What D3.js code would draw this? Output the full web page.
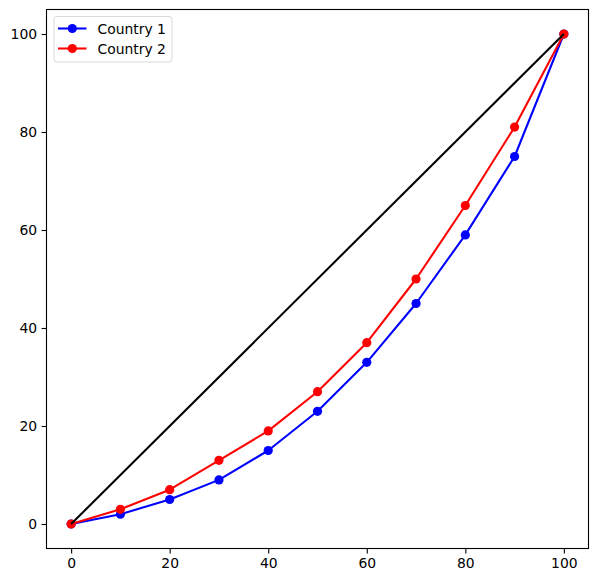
<!DOCTYPE html>
<html><head><meta charset="utf-8">
<script src="https://cdn.jsdelivr.net/npm/d3@7"></script>
<style>body{margin:0;background:#fff}svg{display:block}text{font-family:"DejaVu Sans";}</style>
</head><body>
<script>
const xs = [0,10,20,30,40,50,60,70,80,90,100];
const country1 = [0,2,5,9,15,23,33,45,59,75,100];
const country2 = [0,3,7,13,19,27,37,50,65,81,100];
const equality = [0,100];
const ticks = [0,20,40,60,80,100];
const seriesNames = ["Country 1","Country 2"];

const W=598,H=582, L=46.5, R=588.5, T=9.5, B=548.5;
const svg=d3.select("body").append("svg").attr("width",W).attr("height",H);
const x=d3.scaleLinear().domain([-5,105]).range([L,R]);
const y=d3.scaleLinear().domain([-5,105]).range([B,T]);

const xa=svg.append("g").attr("transform",`translate(0,${B})`).call(d3.axisBottom(x).tickValues(ticks).tickSize(4.9).tickPadding(4.5));
const ya=svg.append("g").attr("transform",`translate(${L},0)`).call(d3.axisLeft(y).tickValues(ticks).tickSize(4.9).tickPadding(4.5));
[xa,ya].forEach(a=>{a.select(".domain").remove();a.selectAll("text").attr("font-size","13.9px").attr("fill","#000").attr("font-family","DejaVu Sans");a.selectAll("line").attr("stroke","#000").attr("stroke-width",1.1);});

const line=d3.line().x((d,i)=>x(xs[i])).y(d=>y(d));
const series=[{v:country1,c:"#0000ff"},{v:country2,c:"#ff0000"}];
series.forEach(s=>{
  svg.append("path").attr("d",line(s.v)).attr("fill","none").attr("stroke",s.c).attr("stroke-width",2.08).attr("stroke-linejoin","round");
  svg.append("g").selectAll("circle").data(s.v).join("circle").attr("cx",(d,i)=>x(xs[i])).attr("cy",d=>y(d)).attr("r",4.6).attr("fill",s.c);
});
svg.append("path").attr("d",d3.line().x(d=>x(d)).y(d=>y(d))(equality)).attr("stroke","#000").attr("stroke-width",2.08).attr("fill","none");

svg.append("rect").attr("x",L).attr("y",T).attr("width",R-L).attr("height",B-T).attr("fill","none").attr("stroke","#000").attr("stroke-width",1.1);

// legend
const lg=svg.append("g");
lg.append("rect").attr("x",54).attr("y",16.5).attr("width",118).attr("height",45.5).attr("rx",3).attr("fill","#fff").attr("fill-opacity",0.8).attr("stroke","#d9d9d9").attr("stroke-width",1);
seriesNames.forEach((n,i)=>{
  const yy=28.5+i*20;
  lg.append("line").attr("x1",58).attr("x2",86.5).attr("y1",yy).attr("y2",yy).attr("stroke",series[i].c).attr("stroke-width",2.08);
  lg.append("circle").attr("cx",72.3).attr("cy",yy).attr("r",4.6).attr("fill",series[i].c);
  lg.append("text").attr("x",97.5).attr("y",yy+5).attr("font-size","13.9px").attr("fill","#000").text(n);
});
</script>
</body></html>
